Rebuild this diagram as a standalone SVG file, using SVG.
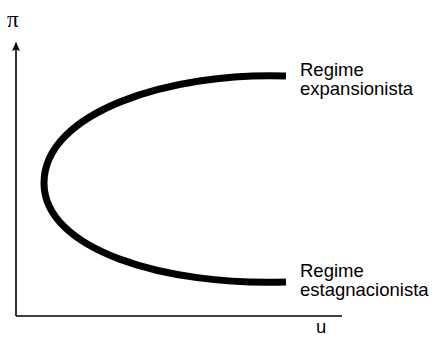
<svg xmlns="http://www.w3.org/2000/svg" width="439" height="340" viewBox="0 0 439 340">
<defs>
<style>
.lbl{font-family:"Liberation Sans",Arial,sans-serif;font-size:18.5px;fill:#000}
.axis{stroke:#000;stroke-width:1.6;fill:none}
</style>
<marker id="ah" viewBox="0 0 10 10" refX="9" refY="5" markerWidth="9" markerHeight="9" markerUnits="userSpaceOnUse" orient="auto">
<path d="M0,0.5 L10,5 L0,9.5 L2,5 Z" fill="#000"/>
</marker>
</defs>
<rect width="439" height="340" fill="#fff"/>
<g id="axes">
<path class="axis" d="M16,316 L16,43" marker-end="url(#ah)"/>
<path class="axis" d="M16,316 L342,316"/>
<text x="7" y="27" style="font-family:'Liberation Serif','Times New Roman',serif;font-size:23px">π</text>
<text class="lbl" x="316" y="333">u</text>
</g>
<g id="curve">
<path d="M286,76 C170,72 44,112 44,183 C44,250 165,286 286,282" fill="none" stroke="#000" stroke-width="7"/>
</g>
<g id="label-expansionista">
<text class="lbl" x="300" y="76">Regime</text>
<text class="lbl" x="300" y="95">expansionista</text>
</g>
<g id="label-estagnacionista">
<text class="lbl" x="300" y="277">Regime</text>
<text class="lbl" x="300" y="296">estagnacionista</text>
</g>
</svg>
